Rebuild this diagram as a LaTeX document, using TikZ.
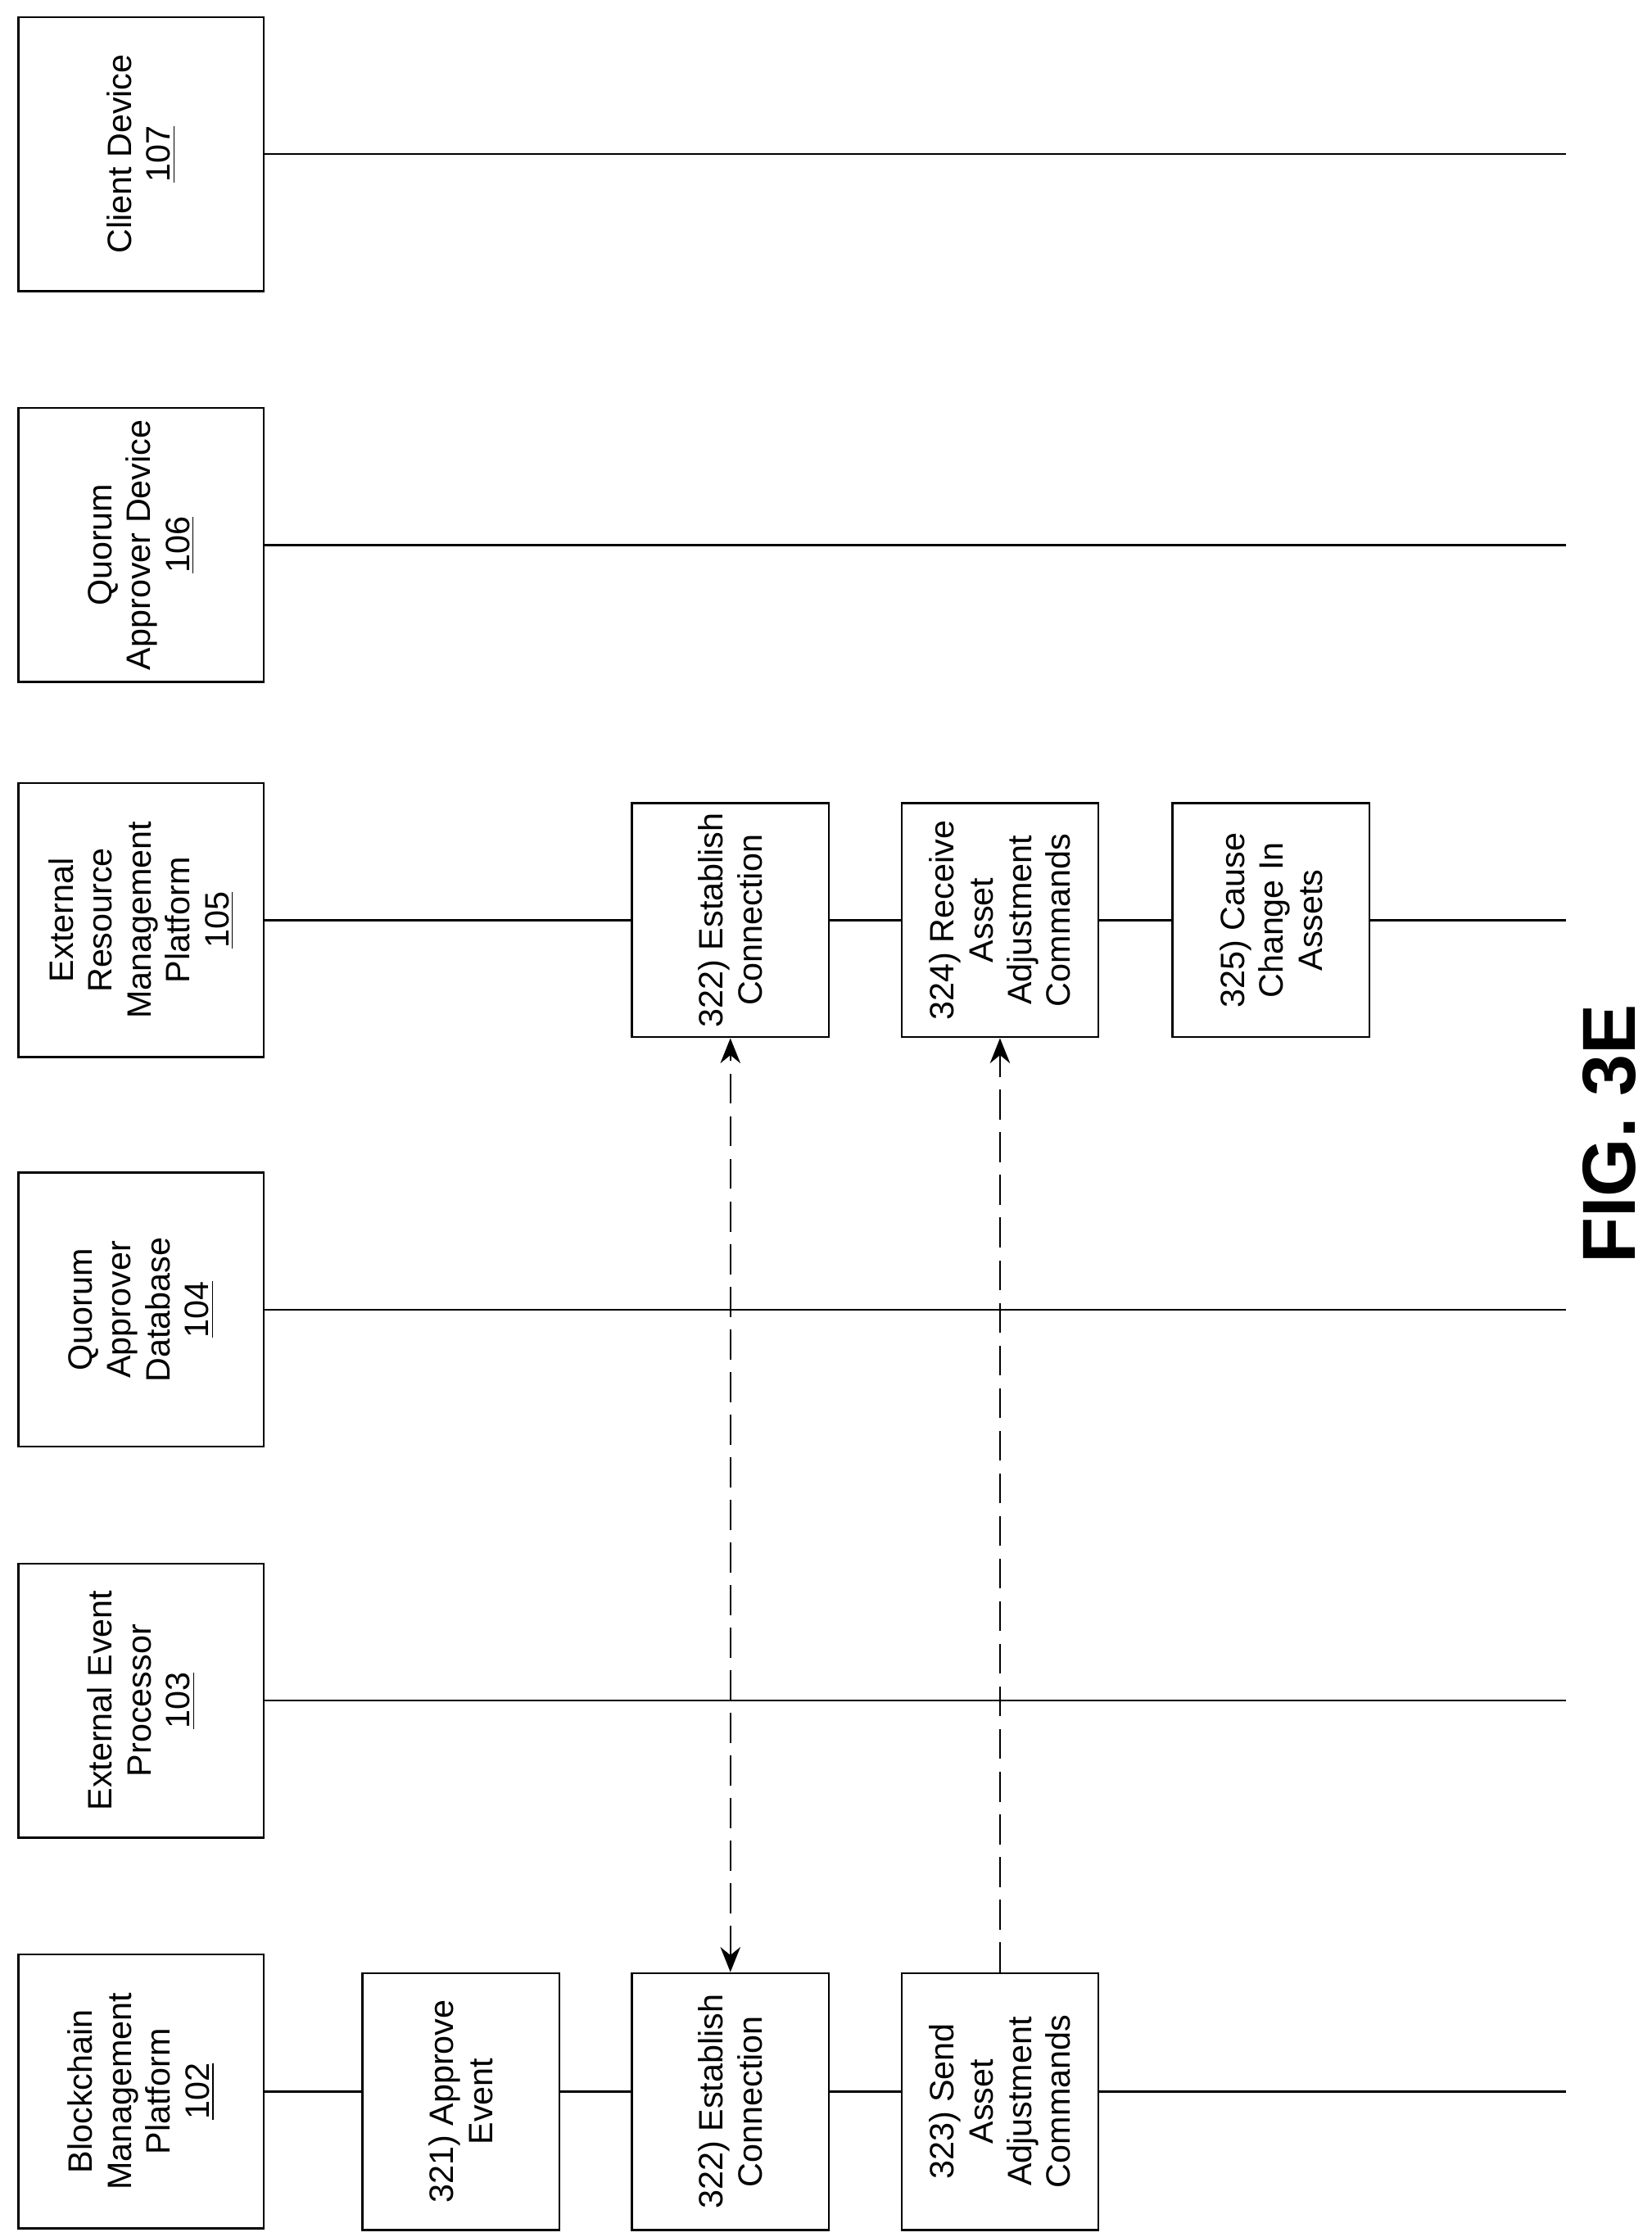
\documentclass[tikz,border=0pt]{standalone}
\usepackage{fontspec}
\setmainfont{Liberation Sans}
\usetikzlibrary{arrows.meta, positioning}
\tikzset{
  ent/.style={draw, thick, fill=white, minimum width=192*0.02cm, minimum height=172*0.02cm, rotate=90, align=center, font=\fontsize{13.5}{15.5}\selectfont},
  stepbox/.style={draw, thick, fill=white, minimum height=138*0.02cm, rotate=90, align=center, font=\fontsize{13.5}{15.5}\selectfont},
  life/.style={thick},
  msg/.style={thick, dashed, dash pattern=on 12pt off 5pt, -{Stealth[length=10pt,width=8pt]}}
}
\begin{document}
\begin{tikzpicture}[x=0.02cm, y=-0.02cm]
\useasboundingbox (0,0) rectangle (1158,1568);

% Lifelines
\foreach \yy in {108,382,645,918,1192,1466}
  \draw[life] (185,\yy) -- (1098,\yy);

% Entities
\node[ent] (client) at (99,108) {Client Device\\\underline{107}};
\node[ent] (qadev) at (99,382) {Quorum\\Approver Device\\\underline{106}};
\node[ent] (ermp) at (99,645) {External\\Resource\\Management\\Platform\\\underline{105}};
\node[ent] (qadb) at (99,918) {Quorum\\Approver\\Database\\\underline{104}};
\node[ent] (eep) at (99,1192) {External Event\\Processor\\\underline{103}};
\node[ent] (bmp) at (99,1466) {Blockchain\\Management\\Platform\\\underline{102}};

% Steps on blockchain platform
\node[stepbox, minimum width=180*0.02cm] (s321) at (323,1473) {321) Approve\\Event};
\node[stepbox, minimum width=180*0.02cm] (s322a) at (512,1473) {322) Establish\\Connection};
\node[stepbox, minimum width=180*0.02cm] (s323) at (701,1473) {323) Send\\Asset\\Adjustment\\Commands};

% Steps on external resource platform
\node[stepbox, minimum width=164*0.02cm] (s322b) at (512,645) {322) Establish\\Connection};
\node[stepbox, minimum width=164*0.02cm] (s324) at (701,645) {324) Receive\\Asset\\Adjustment\\Commands};
\node[stepbox, minimum width=164*0.02cm] (s325) at (891,645) {325) Cause\\Change In\\Assets};

% Messages
\draw[msg, {Stealth[length=10pt,width=8pt]}-{Stealth[length=10pt,width=8pt]}] (s322a.east) -- (s322b.west);
\draw[msg] (s323.east) -- (s324.west);

\node[rotate=90, font=\fontsize{30}{34}\selectfont\bfseries] (fig) at (1128,795) {FIG. 3E};
\end{tikzpicture}
\end{document}
